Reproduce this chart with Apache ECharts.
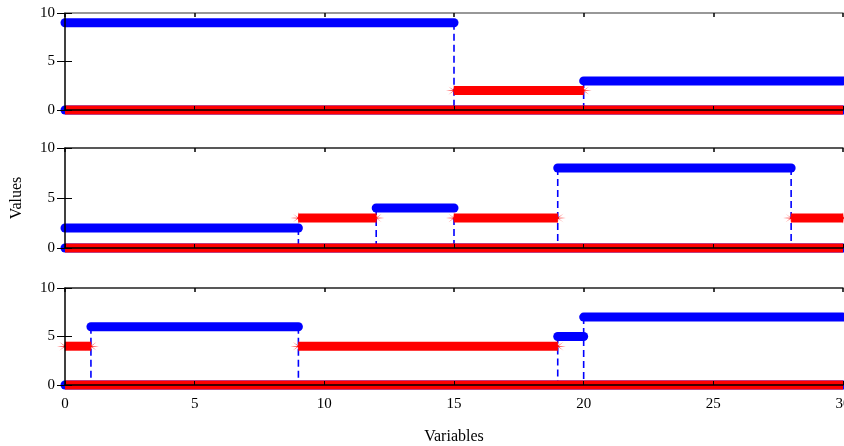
<!DOCTYPE html>
<html>
<head>
<meta charset="utf-8">
<script src="https://cdn.jsdelivr.net/npm/echarts@6/dist/echarts.min.js"></script>
<style>html,body{margin:0;padding:0;background:#fff}#c{width:844px;height:446px}</style>
</head>
<body>
<div id="c"></div>
<script>
// Data: segments are [start, end, value]; drops are [x, fromValue] (dashed line down to 0)
const xTicks = [0, 5, 10, 15, 20, 25, 30];
const yTicks = [0, 5, 10];
const p1Blue = [[0, 30, 0], [0, 15, 9], [20, 30, 3]];
const p1Red = [[0, 30, 0], [15, 20, 2]];
const p1Drops = [[15, 9], [20, 3]];
const p2Blue = [[0, 30, 0], [0, 9, 2], [12, 15, 4], [19, 28, 8]];
const p2Red = [[0, 30, 0], [9, 12, 3], [15, 19, 3], [28, 30, 3]];
const p2Drops = [[9, 2], [12, 4], [15, 3], [19, 8], [28, 8]];
const p3Blue = [[0, 30, 0], [1, 9, 6], [19, 20, 5], [20, 30, 7]];
const p3Red = [[0, 30, 0], [0, 1, 4], [9, 19, 4]];
const p3Drops = [[1, 6], [9, 6], [19, 5], [20, 7]];

const panels = [
  {blue: p1Blue, red: p1Red, drops: p1Drops, top: 13, height: 97, topColor: '#777'},
  {blue: p2Blue, red: p2Red, drops: p2Drops, top: 148, height: 100, topColor: '#222'},
  {blue: p3Blue, red: p3Red, drops: p3Drops, top: 288, height: 97, topColor: '#222'}
];
const BLUE = '#0000ff', RED = '#ff0000';
const FONT = 'Liberation Serif';
const STAR = 'path://M0,5 L5,4.6 L10,5 L5,5.4 Z M5,0 L5.4,5 L5,10 L4.6,5 Z M1.5,1.5 L5,4.7 L8.5,8.5 L5,5.3 Z M8.5,1.5 L5.3,5 L1.5,8.5 L4.7,5 Z';

const grid = [], xAxis = [], yAxis = [], series = [];
panels.forEach((p, i) => {
  grid.push({left: 65, right: 1, top: p.top, height: p.height, outerBoundsMode: 'none', containLabel: false});
  const last = i === panels.length - 1;
  xAxis.push({
    type: 'value', gridIndex: i, min: xTicks[0], max: xTicks[xTicks.length - 1], interval: 5, z: 5,
    axisLine: {onZero: false, lineStyle: {color: '#000', width: 1.5}},
    axisTick: {inside: true, length: 4, lineStyle: {color: '#000'}},
    axisLabel: {show: last, margin: 12, color: '#000', fontFamily: FONT, fontSize: 15, hideOverlap: false},
    splitLine: {show: false},
    name: last ? 'Variables' : '', nameLocation: 'middle', nameGap: 44,
    nameTextStyle: {color: '#000', fontFamily: FONT, fontSize: 16}
  });
  xAxis.push({
    type: 'value', gridIndex: i, position: 'top', min: xTicks[0], max: xTicks[xTicks.length - 1], interval: 5, z: 5,
    axisLine: {onZero: false, lineStyle: {color: p.topColor, width: 1.5}},
    axisTick: {inside: true, length: 4, lineStyle: {color: '#000', width: 1.5}},
    axisLabel: {show: false}, splitLine: {show: false}
  });
  yAxis.push({
    type: 'value', gridIndex: i, min: yTicks[0], max: yTicks[yTicks.length - 1], interval: 5, z: 5,
    axisLine: {onZero: false, lineStyle: {color: '#000', width: 1.5}},
    axisTick: {inside: true, length: 7, lineStyle: {color: '#000'}},
    axisLabel: {margin: 10, color: '#000', fontFamily: FONT, fontSize: 15},
    splitLine: {show: false},
    name: i === 1 ? 'Values' : '', nameLocation: 'middle', nameGap: 40, nameRotate: 90,
    nameTextStyle: {color: '#000', fontFamily: FONT, fontSize: 16}
  });
  yAxis.push({
    type: 'value', gridIndex: i, position: 'right', min: yTicks[0], max: yTicks[yTicks.length - 1], interval: 5, z: 5,
    axisLine: {show: false},
    axisTick: {inside: true, length: 8, lineStyle: {color: '#000'}},
    axisLabel: {show: false}, splitLine: {show: false}
  });
  const xi = i * 2, yi = i * 2;
  p.drops.forEach(d => {
    series.push({
      type: 'line', xAxisIndex: xi, yAxisIndex: yi, data: [[d[0], d[1]], [d[0], 0]],
      symbol: 'none', clip: false, silent: true, z: 1,
      lineStyle: {color: BLUE, width: 1.6, type: [7, 4]}
    });
  });
  p.blue.forEach(s => {
    series.push({
      type: 'line', xAxisIndex: xi, yAxisIndex: yi, data: [[s[0], s[2]], [s[1], s[2]]],
      symbol: 'none', clip: false, silent: true, z: 2,
      lineStyle: {color: BLUE, width: 9, cap: 'round'}
    });
  });
  p.red.forEach(s => {
    series.push({
      type: 'line', xAxisIndex: xi, yAxisIndex: yi, data: [[s[0], s[2]], [s[1], s[2]]],
      symbol: s[2] === 0 ? 'none' : STAR, symbolSize: [16, 12], showSymbol: true,
      itemStyle: {color: RED, borderWidth: 0},
      clip: false, silent: true, z: 3,
      lineStyle: {color: RED, width: 9, cap: 'butt'}
    });
  });
});

const chart = echarts.init(document.getElementById('c'), null, {renderer: 'canvas'});
chart.setOption({animation: false, backgroundColor: '#fff', grid, xAxis, yAxis, series});
</script>
</body>
</html>
